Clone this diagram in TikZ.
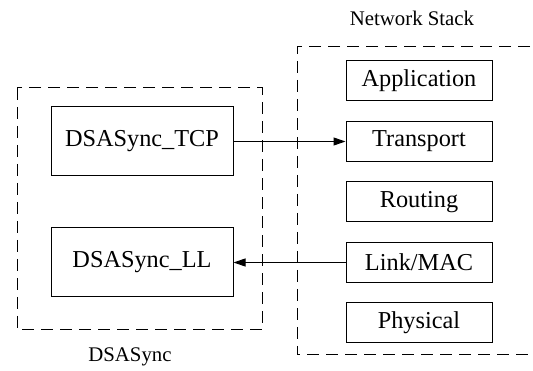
\documentclass[tikz,border=0pt]{standalone}
\usepackage{fontspec}
\setmainfont{Liberation Serif}
\usetikzlibrary{arrows.meta}
\begin{document}
\begin{tikzpicture}[x=1pt,y=-1pt,
  box/.style={draw,line width=1pt,inner sep=0pt,font=\fontsize{24.3}{28}\selectfont},
  bigbox/.style={box,minimum width=182pt,minimum height=69pt},
  layer/.style={box,minimum width=146pt,minimum height=40pt},
  group/.style={draw,line width=1pt,dash pattern=on 12pt off 7pt},
  lbl/.style={inner sep=0pt,font=\fontsize{20.8}{24}\selectfont},
  conn/.style={line width=1pt,-{Triangle[length=12pt,width=8pt]}}]
\useasboundingbox (0,0) rectangle (533,371);
\draw[group] (17,88) rectangle (262,330);
\draw[group] (530,47) -- (297,47) -- (297,355) -- (530,355);
\node[bigbox] (tcp) at (142,141.5) {DSASync\_TCP};
\node[bigbox] (ll) at (142,262.5) {DSASync\_LL};
\node[layer] (app) at (419,81) {Application};
\node[layer] (trans) at (419,141.5) {Transport};
\node[layer] (rout) at (419,202) {Routing};
\node[layer] (link) at (419,262.5) {Link/MAC};
\node[layer] (phy) at (419,323) {Physical};
\node[lbl] (ns) at (412,18) {Network Stack};
\node[lbl] (ds) at (130,357) {DSASync};
\draw[conn] (tcp.east) -- (trans.west);
\draw[conn] (link.west) -- (ll.east);
\end{tikzpicture}
\end{document}
